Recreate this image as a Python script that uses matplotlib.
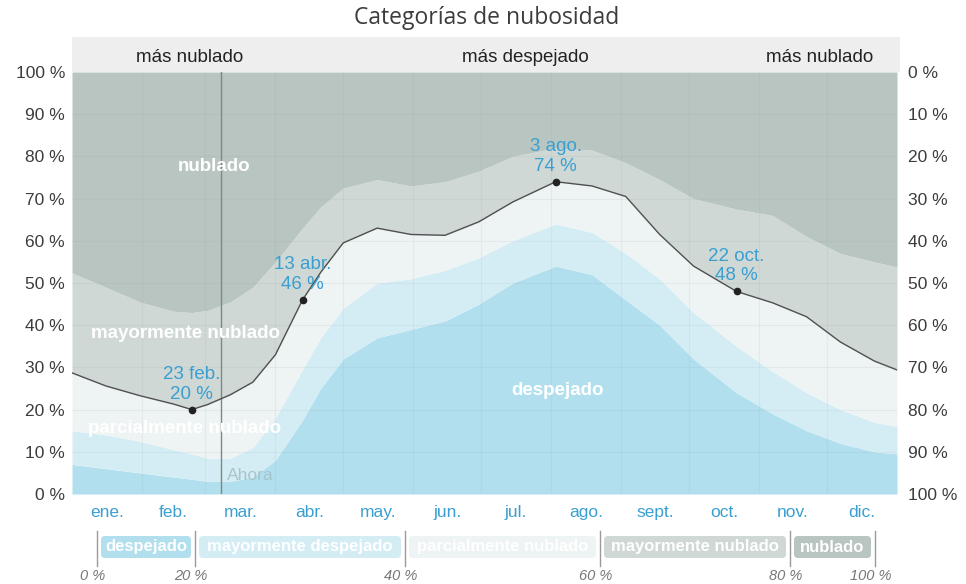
import numpy as np
import matplotlib.pyplot as plt
from matplotlib.patches import FancyBboxPatch, Rectangle

# day of year (0 = 1 ene.) and cumulative share of each cloud category, in %
dias = [0, 15, 30, 45, 53, 60, 70, 80, 90, 102, 110, 120, 135, 150, 165, 180,
        195, 214, 230, 245, 260, 275, 294, 310, 325, 340, 355, 365]
tope_despejado = [7, 6, 5, 4, 3.5, 3, 3, 4, 8, 17.5, 25, 32, 37, 39, 41, 45,
                  50, 54, 52, 46, 40, 32, 24, 19, 15, 12, 10, 9.5]
tope_may_despejado = [15, 14, 12.5, 10.5, 9.5, 8.5, 8.5, 11, 18, 29.5, 37, 44,
                      50, 51, 53, 56, 60, 64, 62, 57, 51, 43, 35, 29, 24, 20,
                      17, 16]
tope_parc_nublado = [28.7, 25.6, 23.3, 21.3, 20, 21.2, 23.5, 26.5, 33, 46,
                     52.5, 59.5, 63, 61.5, 61.3, 64.5, 69.2, 74, 73, 70.5,
                     61.5, 54, 48, 45.3, 42, 36, 31.5, 29.4]
tope_may_nublado = [52.4, 49, 45.5, 43.3, 43, 43.5, 45.5, 49, 55, 63, 68,
                    72.5, 74.5, 73, 74, 76.5, 80, 82, 81.5, 78.5, 74.5, 70,
                    67.5, 66, 61, 57, 55, 53.8]

categorias = ["despejado", "mayormente despejado", "parcialmente nublado",
              "mayormente nublado", "nublado"]
meses = ["ene.", "feb.", "mar.", "abr.", "may.", "jun.", "jul.", "ago.",
         "sept.", "oct.", "nov.", "dic."]
dias_mes = [31, 28, 31, 30, 31, 30, 31, 31, 30, 31, 30, 31]
destacados = [(53, "23 feb."), (102, "13 abr."), (214, "3 ago."), (294, "22 oct.")]
dia_ahora = 66
escala_leyenda = [0, 20, 40, 60, 80, 100]

colores = ["#b2dfee", "#d4edf5", "#eef3f4", "#cfd8d5", "#b9c5c0"]
azul = "#3a9fd0"
gris_txt = "#3c3c3c"

plt.rcParams['font.family'] = ['Liberation Sans', 'DejaVu Sans']

fig = plt.figure(figsize=(9.66, 5.84), dpi=100)
W, H = 966, 584
ax = fig.add_axes([72 / W, 1 - 494 / H, 825 / W, 422 / H])

x = np.array(dias)
capas = [np.zeros(len(x)), np.array(tope_despejado), np.array(tope_may_despejado),
         np.array(tope_parc_nublado), np.array(tope_may_nublado),
         np.full(len(x), 100.0)]
for i, c in enumerate(colores):
    ax.fill_between(x, capas[i], capas[i + 1], color=c, lw=0, zorder=1)

# faint grid
for v in range(10, 100, 10):
    ax.axhline(v, color="#8a9a9a", alpha=0.1, lw=0.8, zorder=2)
inicio_mes = np.concatenate([[0], np.cumsum(dias_mes)])
for d in inicio_mes[1:-1]:
    ax.axvline(d, color="#8a9a9a", alpha=0.1, lw=0.8, zorder=2)

# "now" marker
ax.axvline(dia_ahora, color="#7d8884", lw=1.0, zorder=3)
ax.text(dia_ahora + 2.5, 2.5, "Ahora", color="#a7c4cc", fontsize=12.5,
        ha="left", va="bottom", zorder=4)

ax.plot(x, tope_parc_nublado, color="#505050", lw=1.0, zorder=5)

for d, fecha in destacados:
    v = tope_parc_nublado[dias.index(d)]
    ax.plot(d, v, "o", color="#222222", ms=4.5, zorder=6)
    ax.annotate(f"{fecha}\n{v:.0f} %", (d, v), xytext=(0, 5),
                textcoords="offset points", ha="center", va="bottom",
                color=azul, fontsize=13.5, linespacing=1.2, zorder=7)

# category names inside the bands
ax.text(63, 77.5, "nublado", color="white", fontsize=13.5, fontweight="bold",
        ha="center", va="center", zorder=4)
ax.text(50, 38, "mayormente nublado", color="white", fontsize=13.5,
        fontweight="bold", ha="center", va="center", zorder=4)
ax.text(50, 15.6, "parcialmente nublado", color="white", fontsize=13.5,
        fontweight="bold", ha="center", va="center", zorder=4)
ax.text(215, 24.5, "despejado", color="white", fontsize=13.5,
        fontweight="bold", ha="center", va="center", zorder=4)

ax.set_xlim(0, 365)
ax.set_ylim(0, 100)
centros = inicio_mes[:-1] + np.array(dias_mes) / 2
ax.set_xticks(centros)
ax.set_xticklabels(meses, color=azul, fontsize=12.5)
ax.set_yticks(range(0, 101, 10))
ax.set_yticklabels([f"{v} %" for v in range(0, 101, 10)], color=gris_txt,
                   fontsize=12.5)
ax.tick_params(length=0, pad=5)
ax.tick_params(axis="x", pad=8)
for s in ax.spines.values():
    s.set_visible(False)

ax2 = ax.twinx()
ax2.set_ylim(100, 0)
ax2.set_yticks(range(0, 101, 10))
ax2.set_yticklabels([f"{v} %" for v in range(0, 101, 10)], color=gris_txt,
                    fontsize=12.5)
ax2.tick_params(length=0, pad=8)
for s in ax2.spines.values():
    s.set_visible(False)

# overlay in pixel units for header, title and legend strip
ov = fig.add_axes([0, 0, 1, 1], zorder=-1)
ov.set_xlim(0, W)
ov.set_ylim(H, 0)
ov.axis("off")
ov.add_patch(Rectangle((72, 37), 828, 35, color="#eeeeee", lw=0))
ov.text(487, 18, "Categorías de nubosidad", fontsize=16.5, color=gris_txt,
        ha="center", va="center", family=["Open Sans", "DejaVu Sans"])
ov.text(190, 58, "más nublado", fontsize=13.5, color="#222222",
        ha="center", va="center")
ov.text(525, 58, "más despejado", fontsize=13.5, color="#222222",
        ha="center", va="center")
ov.text(820, 58, "más nublado", fontsize=13.5, color="#222222",
        ha="center", va="center")

ley = fig.add_axes([0, 0, 1, 1], zorder=2)
ley.set_xlim(0, W)
ley.set_ylim(H, 0)
ley.axis("off")
pos_ley = [97, 195, 405, 600, 790, 875]
for i, nombre in enumerate(categorias):
    x0, x1 = pos_ley[i] + 4, pos_ley[i + 1] - 4
    ley.add_patch(FancyBboxPatch((x0, 536), x1 - x0, 22,
                                 boxstyle="round,pad=0,rounding_size=4",
                                 color=colores[i], lw=0))
    ley.text((x0 + x1) / 2, 547, nombre, color="white", fontsize=12,
             fontweight="bold", ha="center", va="center")
for p, v in zip(pos_ley, escala_leyenda):
    ley.plot([p, p], [531, 566], color="#9a9a9a", lw=1)
    ley.text(p - 4, 576, f"{v} %", color="#777777", fontsize=10.5,
             style="italic", ha="center", va="center")

fig.savefig("out.png", dpi=100)
